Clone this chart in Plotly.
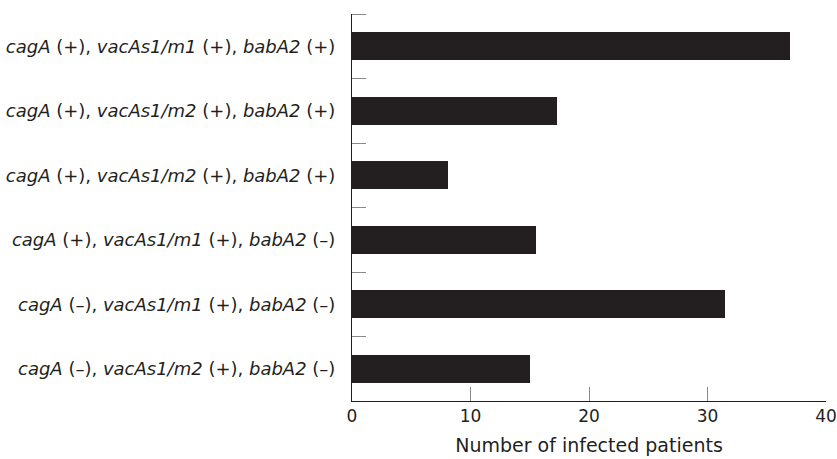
import plotly.graph_objects as go

# Genotype combinations (top to bottom) and infected-patient counts
genotypes = [
    "<i>cagA</i> (+), <i>vacAs1/m1</i> (+), <i>babA2</i> (+)",
    "<i>cagA</i> (+), <i>vacAs1/m2</i> (+), <i>babA2</i> (+)",
    "<i>cagA</i> (+), <i>vacAs1/m2</i> (+), <i>babA2</i> (+)",
    "<i>cagA</i> (+), <i>vacAs1/m1</i> (+), <i>babA2</i> (–)",
    "<i>cagA</i> (–), <i>vacAs1/m1</i> (+), <i>babA2</i> (–)",
    "<i>cagA</i> (–), <i>vacAs1/m2</i> (+), <i>babA2</i> (–)",
]
patients = [37, 17.3, 8.1, 15.5, 31.5, 15.0]
x_ticks = [0, 10, 20, 30, 40]

ink = "#231f20"
tick_grey = "#8a8a8a"
font_family = "'DejaVu Sans', sans-serif"

rows = list(range(len(genotypes)))
boundaries = [r - 0.5 for r in rows]

fig = go.Figure(
    go.Bar(
        x=patients,
        y=rows,
        orientation="h",
        width=0.43,
        marker=dict(color=ink, line=dict(width=0)),
        hoverinfo="x",
    )
)

fig.update_layout(
    width=837,
    height=459,
    margin=dict(l=352, r=11, t=14, b=58),
    paper_bgcolor="white",
    plot_bgcolor="white",
    showlegend=False,
    font=dict(family=font_family, size=17, color=ink),
    bargap=0,
)

fig.update_xaxes(
    range=[0, 40],
    automargin=False,
    tickmode="array",
    tickvals=x_ticks,
    ticktext=[str(v) for v in x_ticks],
    ticks="inside",
    ticklen=14,
    tickwidth=1,
    tickcolor=tick_grey,
    showline=True,
    linecolor=ink,
    linewidth=1,
    showgrid=False,
    zeroline=False,
    tickfont=dict(size=17, color=ink),
    title=dict(text="Number of infected patients", font=dict(size=19, color=ink), standoff=13),
)

fig.update_yaxes(
    range=[len(rows) - 0.5, -0.5],
    automargin=False,
    tickmode="array",
    tickvals=rows,
    ticktext=genotypes,
    ticks="outside",
    ticklen=0,
    ticklabelstandoff=12,
    tickfont=dict(size=18, color=ink),
    minor=dict(
        tickmode="array",
        tickvals=boundaries,
        ticks="inside",
        ticklen=14,
        tickwidth=1,
        tickcolor=tick_grey,
        showgrid=False,
    ),
    showline=True,
    linecolor=ink,
    linewidth=1,
    showgrid=False,
    zeroline=False,
)

fig.write_html("out.html")
